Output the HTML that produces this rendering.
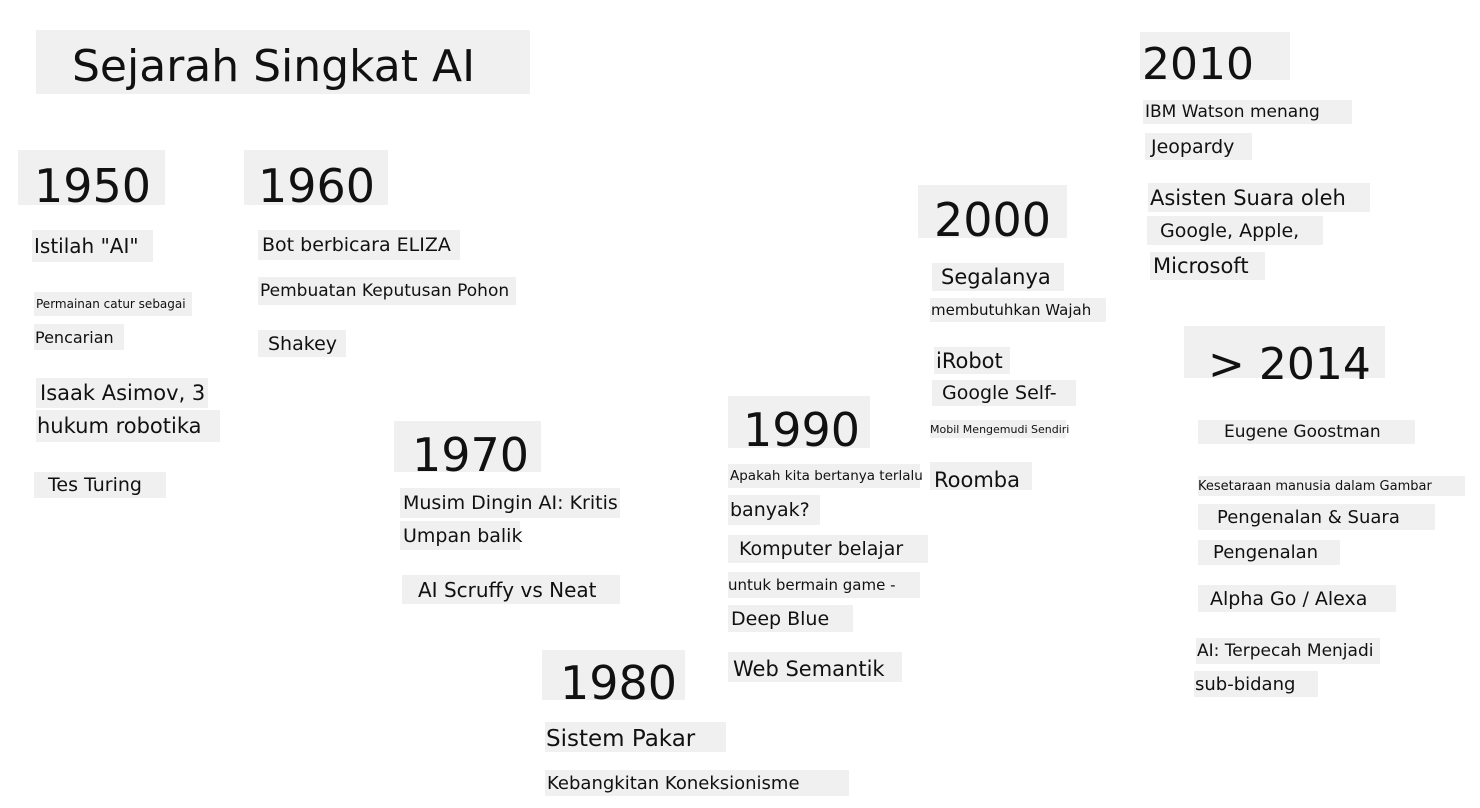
<!DOCTYPE html>
<html><head><meta charset="utf-8"><style>
html,body{margin:0;padding:0;background:#fff;width:1480px;height:808px;overflow:hidden}
.b{position:absolute;background:#f0f0f0;display:flex;align-items:center;white-space:nowrap;color:#111;font-family:"DejaVu Sans","Liberation Sans",sans-serif;box-sizing:border-box}
</style></head><body>
<div id="root"></div>
<script>
const items=[
["title","Sejarah Singkat AI",36,30,494,64,44,36,4],
["year-1950","1950",18,150,147,55,46,16,8],
["year-1960","1960",244,150,144,55,46,14,8],
["istilah-ai","Istilah \"AI\"",32,230,121,32,20,2,0],
["permainan-catur","Permainan catur sebagai",34,292,158,24,12,2,0],
["pencarian","Pencarian",34,324,90,26,16,1,0],
["isaak-asimov","Isaak Asimov, 3",36,378,172,30,21,4,0],
["hukum-robotika","hukum robotika",36,410,184,32,21,1,0],
["tes-turing","Tes Turing",34,472,132,26,19,14,0],
["bot-eliza","Bot berbicara ELIZA",258,230,202,30,19,4,0],
["pohon-keputusan","Pembuatan Keputusan Pohon",258,277,258,28,17,2,0],
["shakey","Shakey",258,330,88,27,19,10,0],
["year-1970","1970",394,421,147,51,46,18,8],
["musim-dingin","Musim Dingin AI: Kritis",400,488,220,30,19,3,0],
["umpan-balik","Umpan balik",400,521,120,29,19,3,0],
["scruffy-neat","AI Scruffy vs Neat",402,575,218,29,20,16,0],
["year-1980","1980",542,650,143,50,46,18,8],
["sistem-pakar","Sistem Pakar",545,722,181,30,23,1,2],
["koneksionisme","Kebangkitan Koneksionisme",545,770,304,26,18,2,0],
["year-1990","1990",728,396,142,52,46,15,8],
["apakah-kita","Apakah kita bertanya terlalu",728,464,192,24,13.5,2,0],
["banyak","banyak?",728,495,92,30,19,2,0],
["komputer-belajar","Komputer belajar",728,535,200,28,19,11,0],
["bermain-game","untuk bermain game -",728,572,192,26,15,0,0],
["deep-blue","Deep Blue",728,605,125,27,19,3,0],
["web-semantik","Web Semantik",728,652,174,30,21,5,2],
["year-2000","2000",918,185,149,53,46,16,8],
["segalanya","Segalanya",932,263,132,28,21,9,0],
["butuh-wajah","membutuhkan Wajah",930,298,176,24,15,1,0],
["irobot","iRobot",934,347,76,27,21,2,0],
["google-self","Google Self-",932,380,144,26,19,10,0],
["mobil-mengemudi","Mobil Mengemudi Sendiri",930,420,136,18,11,0,0],
["roomba","Roomba",930,462,102,28,21,4,4],
["year-2010","2010",1140,32,150,48,44,2,8],
["ibm-watson","IBM Watson menang",1143,100,209,24,17,2,0],
["jeopardy","Jeopardy",1145,133,107,27,19,6,0],
["asisten-suara","Asisten Suara oleh",1148,183,222,29,21,2,0],
["google-apple","Google, Apple,",1147,216,176,29,19,13,0],
["microsoft","Microsoft",1150,252,115,28,21,3,0],
["year-2014","> 2014",1184,326,201,52,44,24,12],
["eugene","Eugene Goostman",1198,420,217,24,17,26,0],
["kesetaraan","Kesetaraan manusia dalam Gambar",1198,476,267,20,13,0,0],
["pengenalan-suara","Pengenalan & Suara",1198,504,237,26,18,19,0],
["pengenalan","Pengenalan",1198,540,142,25,18,15,0],
["alpha-go","Alpha Go / Alexa",1198,585,198,27,19,12,0],
["terpecah","AI: Terpecah Menjadi",1196,638,184,26,17,1,0],
["sub-bidang","sub-bidang",1194,671,124,26,18,1,0]
];
const root=document.getElementById('root');
for(const it of items){
  const d=document.createElement('div');
  d.className='b';
  
  
  d.style.left=it[2]+'px';d.style.top=it[3]+'px';d.style.width=it[4]+'px';d.style.height=it[5]+'px';
  d.style.fontSize=it[6]+'px';d.style.paddingLeft=it[7]+'px';
  d.style.paddingTop=(it[8]*2)+'px';
  d.textContent=it[1];
  root.appendChild(d);
}
</script>
</body></html>
